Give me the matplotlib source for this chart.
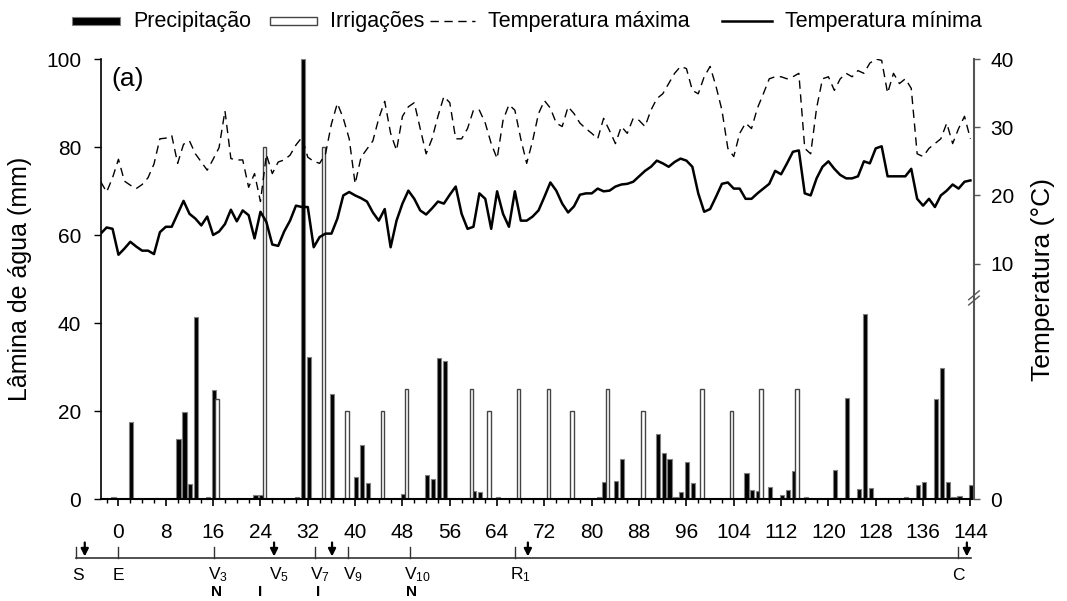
import numpy as np
import matplotlib.pyplot as plt
from matplotlib.patches import Rectangle
from matplotlib.lines import Line2D

plt.rcParams['font.family'] = ['Liberation Sans', 'DejaVu Sans']
plt.rcParams['mathtext.default'] = 'regular'

# daily series, days after emergence (DAE)
days = np.arange(-3, 145)
tmax = [22.0, 20.5, 22.6, 25.3, 22.1, 21.5, 21.0, 21.6, 22.6, 24.6,
        28.3, 28.4, 28.8, 24.7, 27.5, 28.0, 26.1, 24.9, 23.7, 25.3,
        27.0, 32.4, 25.4, 25.2, 25.2, 21.2, 23.2, 19.1, 26.0, 23.2,
        24.9, 25.2, 25.9, 27.4, 28.5, 25.6, 25.0, 24.7, 26.1, 30.5,
        33.5, 31.3, 28.3, 21.7, 25.6, 26.8, 28.0, 31.3, 33.8, 29.1,
        26.6, 31.6, 33.0, 33.6, 29.8, 26.1, 28.3, 31.6, 34.5, 33.6,
        28.3, 28.3, 29.8, 32.5, 32.5, 30.6, 27.6, 25.4, 31.0, 33.3,
        32.5, 28.3, 24.7, 28.0, 32.0, 33.9, 32.8, 30.6, 30.1, 33.0,
        32.0, 30.6, 29.8, 29.1, 28.3, 31.3, 29.5, 27.6, 30.1, 29.1,
        31.3, 31.0, 30.1, 32.5, 34.2, 34.9, 36.4, 37.9, 38.9, 38.6,
        35.4, 34.9, 37.4, 38.9, 36.0, 32.5, 26.9, 25.7, 29.1, 30.6,
        29.8, 32.8, 34.9, 37.1, 37.4, 37.4, 37.1, 37.4, 37.9, 26.9,
        26.1, 32.8, 37.1, 37.4, 35.4, 37.1, 37.9, 37.4, 38.3, 37.9,
        39.4, 40.0, 39.8, 35.0, 37.9, 36.4, 37.1, 35.7, 26.1, 25.7,
        26.9, 27.6, 28.3, 30.6, 27.6, 29.8, 31.6, 28.3]
tmin = [14.4, 15.3, 15.1, 11.3, 12.2, 13.2, 12.5, 11.9, 11.9, 11.4,
        14.6, 15.4, 15.4, 17.3, 19.2, 17.3, 16.6, 15.6, 16.9, 14.2,
        14.7, 15.8, 17.9, 16.2, 17.8, 17.1, 13.7, 17.6, 16.1, 12.8,
        12.6, 14.7, 16.3, 18.5, 18.3, 18.3, 12.4, 13.9, 14.4, 14.4,
        16.6, 20.0, 20.5, 20.0, 19.6, 19.1, 17.5, 16.3, 18.0, 12.4,
        16.3, 18.8, 20.7, 19.5, 17.8, 17.2, 18.1, 19.1, 18.8, 20.1,
        21.3, 17.3, 15.1, 15.4, 20.3, 19.5, 15.1, 20.6, 17.3, 15.4,
        20.6, 16.3, 16.3, 16.9, 17.8, 19.8, 21.9, 20.7, 18.8, 17.5,
        18.4, 20.1, 20.3, 20.3, 21.0, 20.6, 20.7, 21.3, 21.6, 21.7,
        22.0, 22.8, 23.6, 24.2, 25.1, 24.7, 24.2, 24.9, 25.4, 25.1,
        24.2, 20.3, 17.6, 18.0, 19.8, 21.7, 21.9, 21.0, 21.0, 19.5,
        19.5, 20.3, 21.0, 21.7, 23.6, 23.1, 24.7, 26.4, 26.6, 20.3,
        20.0, 22.5, 24.2, 25.0, 23.9, 23.0, 22.5, 22.5, 22.8, 25.0,
        24.7, 26.9, 27.2, 22.8, 22.8, 22.8, 22.8, 23.9, 19.5, 18.5,
        19.5, 18.3, 20.0, 20.7, 21.6, 21.0, 22.0, 22.2]

precip_days = [-1, 2, 6, 10, 11, 12, 13, 15, 16, 23, 24, 30, 31, 32, 36,
               40, 41, 42, 48, 52, 53, 54, 55, 60, 61, 64, 81, 82, 84, 85,
               91, 92, 93, 94, 95, 96, 97, 106, 107, 108, 110, 112, 113, 114,
               116, 121, 123, 125, 126, 127, 133, 135, 136, 138, 139, 140,
               141, 142, 144]
precip_mm = [0.4, 17.4, 0.3, 13.6, 19.8, 3.3, 41.3, 0.5, 24.7, 0.9, 0.9,
             0.4, 100.0, 32.2, 23.8, 4.9, 12.2, 3.6, 1.1, 5.4, 4.5, 32.0,
             31.3, 1.8, 1.5, 0.4, 0.4, 3.8, 4.1, 9.2, 14.7, 10.4, 9.2, 0.4,
             1.5, 8.3, 3.6, 5.8, 2.0, 1.8, 2.7, 0.9, 2.0, 6.4, 0.4, 6.6,
             22.9, 2.3, 42.0, 2.4, 0.5, 3.2, 3.8, 22.7, 29.7, 3.8, 0.4,
             0.7, 3.2]

irrig_days = [16, 24, 34, 38, 44, 48, 59, 62, 67, 72, 76, 82, 88, 98, 103,
              108, 114]
irrig_mm = [22.8, 80, 80, 20, 20, 25, 25, 20, 25, 25, 20, 25, 20, 25, 20,
            25, 25]

# phenology line under the x axis
stage_names = ['S', 'E', 'V$_3$', 'V$_5$', 'V$_7$', 'V$_9$', 'V$_{10}$',
               'R$_1$', 'C']
stage_days = [-7.1, 0, 16.1, 26.3, 33.3, 38.8, 49.2, 67.1, 141.9]
stage_tick = [True, True, True, False, True, True, True, True, True]
arrow_days = [-5.7, 26.3, 36.1, 69.2, 143.4]
mgmt_labels = ['N', 'I', 'I', 'N']
mgmt_days = [16.6, 24.0, 33.7, 49.6]


def t2mm(t):
    # right axis: 10-40 degC mapped onto the upper part of the mm scale
    return 100.0 - (40.0 - np.asarray(t, dtype=float)) * 1.55


fig = plt.figure(figsize=(10.67, 6.01), dpi=100)
ax = fig.add_axes([0.0944, 0.1697, 0.8184, 0.7321])

ax.bar(np.array(precip_days) - 0.2, precip_mm, width=0.7, align='edge',
       color='black', edgecolor='#808080', linewidth=0.8, zorder=2)
ax.bar(np.array(irrig_days) + 0.35, irrig_mm, width=0.6, align='edge',
       color='white', edgecolor='#444444', linewidth=1.0, zorder=2)
ax.plot(days, t2mm(tmax), color='black', lw=1.0, dashes=(6, 4), zorder=3)
ax.plot(days, t2mm(tmin), color='black', lw=1.8, zorder=3)

ax.set_xlim(-3, 144.6)
ax.set_ylim(0, 100)
ax.set_xticks(np.arange(0, 145, 8))
ax.set_xticks(np.arange(-2, 145, 2), minor=True)
ax.set_yticks([0, 20, 40, 60, 80, 100])
ax.tick_params(axis='x', which='major', length=5, width=1.2, pad=12,
               labelsize=15, direction='out')
ax.tick_params(axis='x', which='minor', length=3, width=1.0, direction='out')
ax.tick_params(axis='y', length=5, width=1.0, pad=9, labelsize=15)
ax.spines['top'].set_visible(False)
ax.spines['right'].set_visible(False)
ax.spines['left'].set_linewidth(1.2)
ax.spines['bottom'].set_linewidth(1.5)
ax.set_ylabel('Lâmina de água (mm)', fontsize=18, labelpad=10)
ax.text(0.012, 0.955, '(a)', transform=ax.transAxes, fontsize=19,
        ha='left', va='center')

ax2 = ax.twinx()
ax2.set_ylim(0, 100)
ax2.set_yticks(t2mm([0, 10, 20, 30, 40]) * [0, 1, 1, 1, 1])
ax2.set_yticklabels(['0', '10', '20', '30', '40'])
ax2.tick_params(axis='y', length=4, width=1.0, pad=8, labelsize=15,
                color='#555555')
for side in ['top', 'left', 'bottom']:
    ax2.spines[side].set_visible(False)
ax2.spines['right'].set_color('#555555')
ax2.spines['right'].set_linewidth(1.5)
ax2.set_ylabel('Temperatura (°C)', fontsize=19, labelpad=12)
# break marks on the temperature axis
for dy in (-0.006, 0.006):
    ax2.plot([0.994, 1.006], [0.447 + dy, 0.467 + dy], transform=ax2.transAxes,
             color='#555555', lw=1.0, clip_on=False)

# legend along the top
def legend_item(x0, x1, kind, label):
    y = 1 - 21 / 601
    if kind == 'bar_black':
        fig.add_artist(Rectangle((x0 / 1067, y - 4 / 601), (x1 - x0) / 1067,
                                 8 / 601, transform=fig.transFigure,
                                 facecolor='black', edgecolor='#808080', lw=0.8))
    elif kind == 'bar_white':
        fig.add_artist(Rectangle((x0 / 1067, y - 4 / 601), (x1 - x0) / 1067,
                                 8 / 601, transform=fig.transFigure,
                                 facecolor='white', edgecolor='#444444', lw=1.0))
    elif kind == 'dash':
        fig.add_artist(Line2D([x0 / 1067, x1 / 1067], [y, y],
                              transform=fig.transFigure, color='black',
                              lw=1.0, dashes=(6, 4)))
    else:
        fig.add_artist(Line2D([x0 / 1067, x1 / 1067], [y, y],
                              transform=fig.transFigure, color='black', lw=1.8))
    fig.text((x1 + 13) / 1067, y, label, fontsize=15.5, ha='left', va='center')


legend_item(72, 120, 'bar_black', 'Precipitação')
legend_item(270, 317, 'bar_white', 'Irrigações')
legend_item(430, 475, 'dash', 'Temperatura máxima')
legend_item(722, 772, 'line', 'Temperatura mínima')

# phenology / management strip
tl = fig.add_axes([0, 0, 1, 71 / 601])
xl = ax.get_xlim()
pos = ax.get_position()
span = (xl[1] - xl[0]) / pos.width
tl_x0 = xl[0] - pos.x0 * span
tl.set_xlim(tl_x0, tl_x0 + span)
tl.set_ylim(601, 530)
tl.axis('off')
tl.plot([stage_days[0], 144.1], [557.7, 557.7], color='#333333', lw=1.2)
for name, d, tick in zip(stage_names, stage_days, stage_tick):
    if tick:
        tl.plot([d, d], [557.7, 546.5], color='#333333', lw=1.0)
    if name in ('S', 'E', 'C'):
        tl.text(d + (0.3 if name == 'S' else 0), 575, name, fontsize=12.5,
                ha='center', va='center')
    else:
        tl.text(d - 0.9, 575, name, fontsize=12.5, ha='left', va='center')
for d in arrow_days:
    tl.annotate('', xy=(d, 556.5), xytext=(d, 542.5),
                arrowprops=dict(arrowstyle='-|>', color='black', lw=1.6,
                                mutation_scale=11, shrinkA=0, shrinkB=0))
for lab, d in zip(mgmt_labels, mgmt_days):
    tl.text(d, 599.5, lab, fontsize=11, fontweight='bold', ha='center',
            va='bottom')

fig.savefig('out.png', dpi=100)
